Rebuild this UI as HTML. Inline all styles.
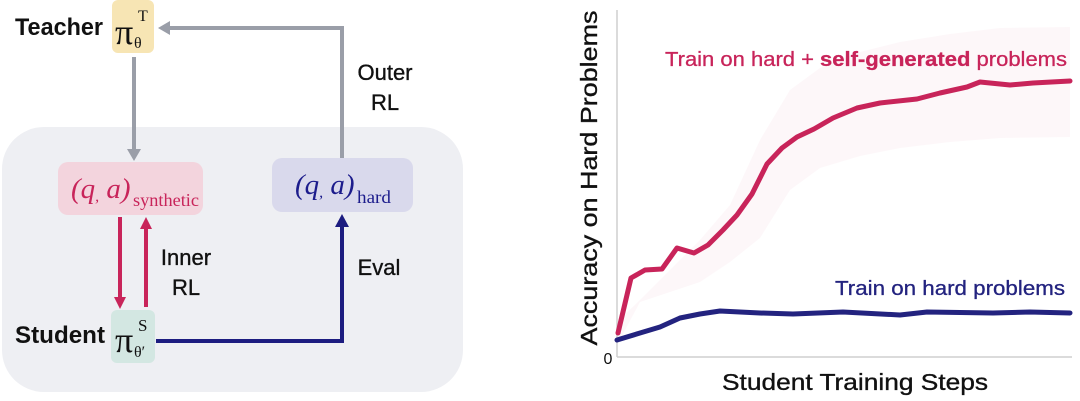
<!DOCTYPE html>
<html><head><meta charset="utf-8"><style>
html,body{margin:0;padding:0;background:#fff;}
svg{display:block;}
</style></head><body>
<svg width="1080" height="401" viewBox="0 0 1080 401" xmlns="http://www.w3.org/2000/svg">
<rect x="0" y="0" width="1080" height="401" fill="#ffffff"/>
<!-- left background -->
<rect x="2" y="127" width="461" height="265" rx="42" fill="#eeeff3"/>

<!-- gray outer loop -->
<polyline points="342,158 342,28 168,28" fill="none" stroke="#9a9ea8" stroke-width="4"/>
<polygon points="158,28 170,21 170,35" fill="#9a9ea8"/>
<line x1="134" y1="57" x2="134" y2="150" stroke="#9a9ea8" stroke-width="4"/>
<polygon points="134,161 127,149 141,149" fill="#9a9ea8"/>

<!-- teacher -->
<rect x="112" y="0" width="42" height="53" rx="6" fill="#f7e5b4"/>
<text x="15" y="35" font-family="Liberation Sans, sans-serif" font-weight="bold" font-size="24" fill="#111" textLength="88" lengthAdjust="spacingAndGlyphs">Teacher</text>
<text x="115" y="44" font-family="Liberation Serif, serif" font-size="36" fill="#111">π</text>
<text x="138" y="21" font-family="Liberation Serif, serif" font-size="16" fill="#111">T</text>
<text x="134" y="48" font-family="Liberation Serif, serif" font-size="16" fill="#111">θ</text>

<!-- Outer RL -->
<g font-family="Liberation Sans, sans-serif" font-size="22" fill="#111" stroke="#111" stroke-width="0.35" text-anchor="middle">
<text x="385" y="80">Outer</text>
<text x="385" y="110">RL</text>
<text x="186" y="265">Inner</text>
<text x="186" y="295">RL</text>
<text x="379" y="275">Eval</text>
</g>

<!-- synthetic box -->
<rect x="58" y="162" width="145" height="53" rx="10" fill="#f3d4dd"/>
<text x="71" y="198" font-family="Liberation Serif, serif" font-style="italic" font-size="29" fill="#c8245a">(q<tspan font-size="16" dy="3">,</tspan><tspan dy="-3"> a)</tspan></text>
<text x="133" y="206" font-family="Liberation Serif, serif" font-size="18" fill="#c8245a" textLength="66" lengthAdjust="spacingAndGlyphs">synthetic</text>

<!-- hard box -->
<rect x="272" y="158" width="141" height="54" rx="10" fill="#d9d9ec"/>
<text x="295" y="194" font-family="Liberation Serif, serif" font-style="italic" font-size="29" fill="#1c1c8c">(q<tspan font-size="16" dy="3">,</tspan><tspan dy="-3"> a)</tspan></text>
<text x="357" y="203" font-family="Liberation Serif, serif" font-size="18" fill="#1c1c8c" textLength="34" lengthAdjust="spacingAndGlyphs">hard</text>

<!-- inner RL arrows -->
<line x1="120" y1="217" x2="120" y2="298" stroke="#c8245a" stroke-width="4"/>
<polygon points="120,309 114,297 126,297" fill="#c8245a"/>
<line x1="146" y1="307" x2="146" y2="228" stroke="#c8245a" stroke-width="4"/>
<polygon points="146,217 140,229 152,229" fill="#c8245a"/>

<!-- student -->
<rect x="111" y="310" width="44" height="53" rx="6" fill="#d3e7e2"/>
<text x="15" y="343" font-family="Liberation Sans, sans-serif" font-weight="bold" font-size="24" fill="#111" textLength="90" lengthAdjust="spacingAndGlyphs">Student</text>
<text x="115" y="352" font-family="Liberation Serif, serif" font-size="36" fill="#111">π</text>
<text x="138" y="331" font-family="Liberation Serif, serif" font-size="17" fill="#111">S</text>
<text x="134" y="357" font-family="Liberation Serif, serif" font-size="16" fill="#111">θ′</text>

<!-- eval arrow -->
<polyline points="156,341 342,341 342,226" fill="none" stroke="#1c1c80" stroke-width="4"/>
<polygon points="342,214 335,227 349,227" fill="#1c1c80"/>

<!-- chart -->
<polygon points="617,322 640,300 670,270 700,240 730,205 760,140 790,90 820,68 860,52 900,42 950,34 1000,28 1070,27 1070,137 1000,138 950,142 900,148 860,156 820,168 790,190 760,238 730,262 700,282 670,292 640,302 617,345" fill="#fdf6f8" opacity="0.9"/>
<line x1="617" y1="10" x2="617" y2="357" stroke="#cfcfcf" stroke-width="1.5"/>
<line x1="617" y1="357" x2="1072" y2="357" stroke="#cfcfcf" stroke-width="1.5"/>
<text x="608" y="364" text-anchor="middle" font-family="Liberation Sans, sans-serif" font-size="16" fill="#111">0</text>
<text transform="translate(597,178) rotate(-90)" text-anchor="middle" font-family="Liberation Sans, sans-serif" font-size="23" fill="#111" stroke="#111" stroke-width="0.35" textLength="335" lengthAdjust="spacingAndGlyphs">Accuracy on Hard Problems</text>
<text x="855" y="390" text-anchor="middle" font-family="Liberation Sans, sans-serif" font-size="23" fill="#111" stroke="#111" stroke-width="0.35" textLength="266" lengthAdjust="spacingAndGlyphs">Student Training Steps</text>

<polyline points="618,333 631,278 645,270 662,269 677,248 694,253 708,245 723,230 737,215 752,194 767,164 782,148 797,137 814,129 833,118 857,108 880,103 917,99 940,93 967,87 980,82 1010,85 1033,83 1070,81" fill="none" stroke="#c8245a" stroke-width="5" stroke-linejoin="round" stroke-linecap="round"/>
<polyline points="617,340 640,333 660,327 680,318 700,314 720,311 760,313 793,314 843,312 900,315 927,312 993,313 1030,312 1070,313" fill="none" stroke="#23237f" stroke-width="5" stroke-linejoin="round" stroke-linecap="round"/>

<text x="665" y="66" font-family="Liberation Sans, sans-serif" font-size="20" fill="#c8245a" stroke="#c8245a" stroke-width="0.3" textLength="402" lengthAdjust="spacingAndGlyphs">Train on hard + <tspan font-weight="bold">self-generated</tspan> problems</text>
<text x="835" y="295" font-family="Liberation Sans, sans-serif" font-size="20" fill="#23237f" stroke="#23237f" stroke-width="0.3" textLength="230" lengthAdjust="spacingAndGlyphs">Train on hard problems</text>
</svg>
</body></html>
